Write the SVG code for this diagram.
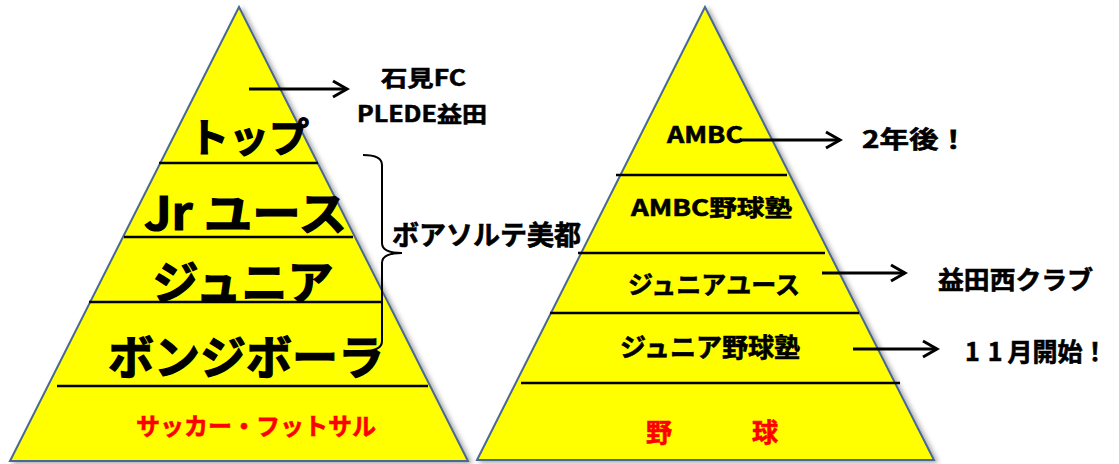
<svg xmlns="http://www.w3.org/2000/svg" width="1119" height="464" viewBox="0 0 1119 464">
<defs>
<filter id="sh" x="-10%" y="-10%" width="125%" height="125%">
<feDropShadow dx="3" dy="2" stdDeviation="2.5" flood-color="#000" flood-opacity="0.35"/>
</filter>
<marker id="ah" viewBox="0 0 20 20" refX="17" refY="10" markerWidth="20" markerHeight="20" markerUnits="userSpaceOnUse" orient="auto">
<path d="M3,2 L17,10 L3,18" fill="none" stroke="#000" stroke-width="3"/>
</marker>
</defs>
<style>
.tri{fill:#ffff00;stroke:#4a6894;stroke-width:2;}
.sep{stroke:#000;stroke-width:2.5;}
text{font-family:'Noto Sans CJK JP','Noto Sans',sans-serif;font-weight:bold;fill:#000;stroke:#000;stroke-width:0.6;}
.big{stroke-width:1.2;}
.m{text-anchor:middle;}
.red{fill:#ff0000;stroke:#ff0000;}
.arr{stroke:#000;stroke-width:3;fill:none;marker-end:url(#ah);}
.brace{stroke:#000;stroke-width:2;fill:none;}
</style>
<rect width="1119" height="464" fill="#ffffff"/>

<g id="soccer-pyramid">
<polygon class="tri" filter="url(#sh)" points="239,7 10,461 468,461"/>
<line class="sep" x1="159" y1="163" x2="318" y2="163"/>
<line class="sep" x1="124" y1="237" x2="353" y2="237"/>
<line class="sep" x1="89" y1="302" x2="382" y2="302"/>
<line class="sep" x1="57" y1="386" x2="428" y2="386"/>
</g>
<g id="tier-top"><text class="m big" x="249" y="152" font-size="40">トップ</text></g>
<g id="tier-jr-youth"><text class="big" x="144" y="230" font-size="46" textLength="203" lengthAdjust="spacingAndGlyphs">Jr ユース</text></g>
<g id="tier-junior"><text class="m big" x="243" y="299" font-size="46">ジュニア</text></g>
<g id="tier-bongibola"><text class="m big" x="246" y="374" font-size="46">ボンジボーラ</text></g>
<g id="tier-soccer"><text class="m red" x="256" y="435" font-size="24">サッカー・フットサル</text></g>

<g id="baseball-pyramid">
<polygon class="tri" filter="url(#sh)" points="705,7 477,460 934,460"/>
<line class="sep" x1="616" y1="175" x2="787" y2="175"/>
<line class="sep" x1="578" y1="253" x2="825" y2="253"/>
<line class="sep" x1="550" y1="313" x2="859" y2="313"/>
<line class="sep" x1="521" y1="383" x2="900" y2="383"/>
</g>
<g id="tier-ambc"><text x="667" y="143" font-size="23" textLength="76" lengthAdjust="spacingAndGlyphs">AMBC</text></g>
<g id="tier-ambc-school"><text x="631" y="216" font-size="23" textLength="161" lengthAdjust="spacingAndGlyphs">AMBC野球塾</text></g>
<g id="tier-junior-youth"><text class="m" x="714" y="294" font-size="25">ジュニアユース</text></g>
<g id="tier-junior-school"><text class="m" x="710" y="357" font-size="26">ジュニア野球塾</text></g>
<g id="tier-baseball"><text class="red" x="646" y="442" font-size="26">野</text><text class="red" x="752" y="442" font-size="26">球</text></g>

<g id="label-iwami"><text x="381" y="86" font-size="22" textLength="85" lengthAdjust="spacingAndGlyphs">石見FC</text><text x="357" y="122" font-size="22" textLength="130" lengthAdjust="spacingAndGlyphs">PLEDE益田</text></g>
<g id="label-boasorte"><text x="392" y="245" font-size="27">ボアソルテ美都</text></g>
<g id="label-2years"><text x="862" y="148" font-size="24" textLength="106" lengthAdjust="spacingAndGlyphs">2年後！</text></g>
<g id="label-masudanishi"><text x="938" y="289" font-size="25" textLength="155" lengthAdjust="spacingAndGlyphs">益田西クラブ</text></g>
<g id="label-november"><text x="965" y="361" font-size="25">1<tspan dx="8">1</tspan><tspan dx="5">月開始！</tspan></text></g>

<g id="connectors">
<line class="arr" x1="249" y1="89" x2="347" y2="89"/>
<line class="arr" x1="740" y1="140" x2="840" y2="140"/>
<line class="arr" x1="822" y1="273" x2="905" y2="273"/>
<line class="arr" x1="853" y1="349" x2="937" y2="349"/>
<path class="brace" d="M363,155 Q382,155 382,165 L382,243 Q382,253 402,253 Q382,253 382,263 L382,341 Q382,351 363,351"/>
</g>
</svg>
